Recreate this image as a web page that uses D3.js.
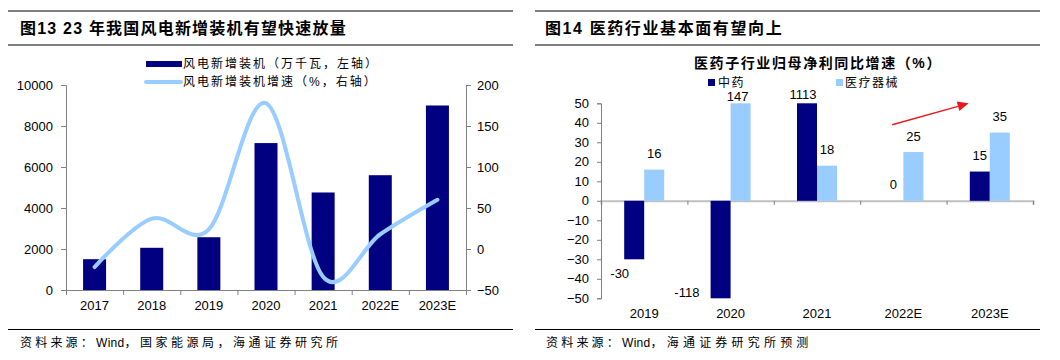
<!DOCTYPE html>
<html><head><meta charset="utf-8">
<script src="https://cdn.jsdelivr.net/npm/d3@7"></script>
<style>
html,body{margin:0;padding:0;background:#fff;}
svg{display:block;}
text{font-family:"Liberation Sans","Noto Sans CJK SC",Arial,sans-serif;fill:#000;}
</style></head>
<body>
<script>
// ---------- data: left chart ----------
const windYears = ["2017","2018","2019","2020","2021","2022E","2023E"];
const windInstalled = [1503, 2059, 2574, 7167, 4757, 5600, 9000];   // 万千瓦, left axis
const windGrowth = [-22, 37, 24, 178, -34, 18, 60];                  // %, right axis
const windLeftTicks = [0, 2000, 4000, 6000, 8000, 10000];
const windRightTicks = [-50, 0, 50, 100, 150, 200];
const windSeriesNames = ["风电新增装机（万千瓦，左轴）", "风电新增装机增速（%，右轴）"];

// ---------- data: right chart ----------
const pharmaYears = ["2019","2020","2021","2022E","2023E"];
const tcmGrowth = [-30, -118, 1113, 0, 15];
const deviceGrowth = [16, 147, 18, 25, 35];
const pharmaTicks = [-50, -40, -30, -20, -10, 0, 10, 20, 30, 40, 50];
const pharmaSeriesNames = ["中药", "医疗器械"];
const arrowFrom = {cat: "2022E", frac: 0.37, value: 39};
const arrowTo = {cat: "2023E", frac: 0.255, value: 50};

// ---------- styles ----------
const NAVY = "#000080", LIGHT = "#99CCFF", AXIS = "#808080", ZERO = "#C0C0C0";
const W = 1060, H = 360;
const svg = d3.select("body").append("svg").attr("width", W).attr("height", H);

function rule(x1, x2, y) {
  svg.append("line").attr("x1", x1).attr("x2", x2).attr("y1", y).attr("y2", y)
    .attr("stroke", "#000").attr("stroke-width", 1.2);
}
// frames
rule(8, 513, 11); rule(8, 513, 45); rule(8, 513, 329.5);
rule(535, 1040, 11); rule(535, 1040, 45); rule(535, 1040, 329.5);

// titles
svg.append("text").attr("x", 20).attr("y", 28).attr("dy", "0.35em")
  .attr("font-size", 16).attr("font-weight", 700).attr("letter-spacing", 1.2)
  .text("图13 23 年我国风电新增装机有望快速放量");
svg.append("text").attr("x", 545).attr("y", 28).attr("dy", "0.35em")
  .attr("font-size", 16).attr("font-weight", 700).attr("letter-spacing", 1.6)
  .text("图14 医药行业基本面有望向上");

// sources
function source(x, parts) {
  const t = svg.append("text").attr("x", x).attr("y", 343).attr("dy", "0.35em").attr("font-size", 12);
  parts.forEach(p => t.append("tspan").attr("letter-spacing", p.sp).text(p.s));
}
source(20, [{s: "资料来源：", sp: 3.2}, {s: "Wind", sp: 0.3}, {s: "，国家能源局，海通证券研究所", sp: 3.5}]);
source(546, [{s: "资料来源：", sp: 3.2}, {s: "Wind", sp: 0.3}, {s: "，海通证券研究所预测", sp: 4.2}]);

// ================= LEFT CHART =================
{
  const L = 66, R = 466, T = 85, B = 290;
  const x = d3.scaleBand().domain(windYears).range([L, R]);
  const yL = d3.scaleLinear().domain([0, 10000]).range([B, T]);
  const yR = d3.scaleLinear().domain([-50, 200]).range([B, T]);
  const g = svg.append("g");
  const bw = 23;

  g.selectAll("rect.bar").data(windYears).join("rect")
    .attr("x", d => x(d) + x.bandwidth() / 2 - bw / 2)
    .attr("y", (d, i) => yL(windInstalled[i]))
    .attr("width", bw)
    .attr("height", (d, i) => B - yL(windInstalled[i]))
    .attr("fill", NAVY);

  const line = d3.line()
    .x((d, i) => x(windYears[i]) + x.bandwidth() / 2)
    .y(d => yR(d))
    .curve(d3.curveCardinal.tension(0));
  g.append("path").attr("d", line(windGrowth)).attr("fill", "none")
    .attr("stroke", LIGHT).attr("stroke-width", 4).attr("stroke-linecap", "round");

  // axes
  const axL = g.append("g").attr("transform", `translate(${L},0)`)
    .call(d3.axisLeft(yL).tickValues(windLeftTicks).tickSize(5).tickPadding(8).tickFormat(d3.format("d")));
  const axR = g.append("g").attr("transform", `translate(${R},0)`)
    .call(d3.axisRight(yR).tickValues(windRightTicks).tickSize(5).tickPadding(6).tickFormat(d3.format("d")));
  const xb = d3.scaleLinear().domain([0, windYears.length]).range([L, R]);
  const axB = g.append("g").attr("transform", `translate(0,${B})`)
    .call(d3.axisBottom(xb).tickValues(d3.range(windYears.length + 1)).tickSize(5).tickFormat(""));
  [axL, axR, axB].forEach(a => {
    a.select(".domain").attr("stroke", AXIS);
    a.selectAll(".tick line").attr("stroke", AXIS);
    a.selectAll("text").attr("font-size", 13).attr("fill", "#000")
      .style("font-family", '"Liberation Sans",Arial,sans-serif');
  });
  g.selectAll("text.xl").data(windYears).join("text")
    .attr("x", d => x(d) + x.bandwidth() / 2).attr("y", 305).attr("dy", "0.35em")
    .attr("text-anchor", "middle").attr("font-size", 13).text(d => d);

  // legend
  g.append("rect").attr("x", 146).attr("y", 61).attr("width", 36).attr("height", 6).attr("fill", NAVY);
  g.append("line").attr("x1", 146).attr("x2", 181).attr("y1", 82).attr("y2", 82)
    .attr("stroke", LIGHT).attr("stroke-width", 4).attr("stroke-linecap", "round");
  g.append("text").attr("x", 183).attr("y", 64).attr("dy", "0.35em").attr("font-size", 12)
    .attr("letter-spacing", 2).text(windSeriesNames[0]);
  g.append("text").attr("x", 183).attr("y", 82).attr("dy", "0.35em").attr("font-size", 12)
    .attr("letter-spacing", 2).text(windSeriesNames[1]);
}

// ================= RIGHT CHART =================
{
  const L = 601, R = 1033, T = 103.3, B = 298.3;
  const x = d3.scaleBand().domain(pharmaYears).range([L, R]);
  const y = d3.scaleLinear().domain([-50, 50]).range([B, T]).clamp(true);
  const g = svg.append("g");
  const bw = 20;
  const labelDx = [[-14.5, -33.7, -4, 0, 0], [0, -3, 0, 0, 0]];
  const labelDy = [[14, -6, -9, -16, -16], [-16, -7, -16, -16, -16]];

  // x axis (zero line)
  const xb = d3.scaleLinear().domain([0, pharmaYears.length]).range([L, R]);
  const axB = g.append("g").attr("transform", `translate(0,${y(0)})`)
    .call(d3.axisBottom(xb).tickValues(d3.range(pharmaYears.length + 1)).tickSize(4).tickFormat(""));
  axB.select(".domain").attr("stroke", ZERO).attr("stroke-width", 2);
  axB.selectAll(".tick line").attr("stroke", AXIS);

  const series = [tcmGrowth, deviceGrowth];
  const colors = [NAVY, LIGHT];
  series.forEach((vals, s) => {
    g.selectAll("rect.s" + s).data(pharmaYears).join("rect")
      .attr("x", d => x(d) + x.bandwidth() / 2 + (s === 0 ? -bw : 0))
      .attr("y", (d, i) => Math.min(y(vals[i]), y(0)))
      .attr("width", bw)
      .attr("height", (d, i) => Math.abs(y(vals[i]) - y(0)))
      .attr("fill", colors[s]);
    g.selectAll("text.l" + s).data(pharmaYears).join("text")
      .attr("x", (d, i) => x(d) + x.bandwidth() / 2 + (s === 0 ? -bw / 2 : bw / 2) + labelDx[s][i])
      .attr("y", (d, i) => y(vals[i]) + labelDy[s][i])
      .attr("dy", "0.35em").attr("text-anchor", "middle").attr("font-size", 13)
      .text((d, i) => vals[i]);
  });

  const axL = g.append("g").attr("transform", `translate(${L},0)`)
    .call(d3.axisLeft(y).tickValues(pharmaTicks).tickSize(4).tickPadding(8).tickFormat(d3.format("d")));
  axL.select(".domain").attr("stroke", AXIS);
  axL.selectAll(".tick line").attr("stroke", AXIS);
  axL.selectAll("text").attr("font-size", 13).attr("fill", "#000")
    .style("font-family", '"Liberation Sans",Arial,sans-serif');

  g.selectAll("text.xl").data(pharmaYears).join("text")
    .attr("x", d => x(d) + x.bandwidth() / 2).attr("y", 313).attr("dy", "0.35em")
    .attr("text-anchor", "middle").attr("font-size", 13).text(d => d);

  // chart title
  g.append("text").attr("x", 818).attr("y", 63).attr("dy", "0.35em").attr("text-anchor", "middle")
    .attr("font-size", 14).attr("font-weight", 700).attr("letter-spacing", 1.6)
    .text("医药子行业归母净利同比增速（%）");
  // legend
  g.append("rect").attr("x", 708).attr("y", 79).attr("width", 7).attr("height", 7).attr("fill", NAVY);
  g.append("text").attr("x", 718).attr("y", 82.5).attr("dy", "0.35em").attr("font-size", 12)
    .attr("letter-spacing", 1.5).text(pharmaSeriesNames[0]);
  g.append("rect").attr("x", 836).attr("y", 79).attr("width", 7).attr("height", 7).attr("fill", LIGHT);
  g.append("text").attr("x", 845).attr("y", 82.5).attr("dy", "0.35em").attr("font-size", 12)
    .attr("letter-spacing", 1.5).text(pharmaSeriesNames[1]);

  // red arrow
  const x1 = x(arrowFrom.cat) + arrowFrom.frac * x.bandwidth(), y1 = y(arrowFrom.value);
  const x2 = x(arrowTo.cat) + arrowTo.frac * x.bandwidth(), y2 = y(arrowTo.value);
  const ang = Math.atan2(y2 - y1, x2 - x1);
  const hl = 11, hw = 5;
  const bx = x2 - hl * Math.cos(ang), by = y2 - hl * Math.sin(ang);
  g.append("line").attr("x1", x1).attr("y1", y1).attr("x2", bx).attr("y2", by)
    .attr("stroke", "#E8191E").attr("stroke-width", 1.3);
  g.append("path").attr("d", `M${x2},${y2}L${bx - hw * Math.sin(ang)},${by + hw * Math.cos(ang)}L${bx + hw * Math.sin(ang)},${by - hw * Math.cos(ang)}Z`)
    .attr("fill", "#E8191E");
}
</script>
</body></html>
